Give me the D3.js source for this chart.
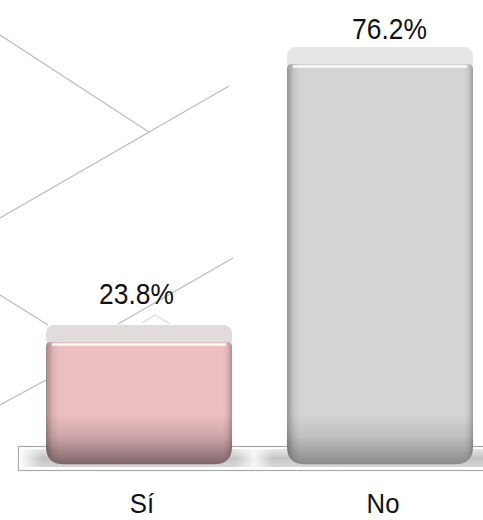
<!DOCTYPE html>
<html>
<head>
<meta charset="utf-8">
<script src="https://cdn.jsdelivr.net/npm/d3@7"></script>
<style>
  html, body { margin: 0; padding: 0; background: #fff; }
  svg { display: block; }
  text { font-family: "Liberation Sans", Arial, sans-serif; fill: #111; }
</style>
</head>
<body>
<div id="chart"></div>
<script>
(function () {

  // chart data
  const categories = ["Sí", "No"];
  const percentages = [23.8, 76.2];
  const valueLabels = ["23.8%", "76.2%"];

  // bar styling (front face, dark bottom, top cap)
  const frontColors = ["#ecbfc0", "#d4d4d4"];
  const bottomColors = ["#7f6669", "#8a8a8a"];
  const capColors = ["#e2dbdb", "#e6e6e6"];

  // decorative background strokes
  const bgLines = [
    [[0, 35], [149, 132]],
    [[0, 218], [229, 86]],
    [[0, 295], [48, 325]],
    [[0, 405], [46, 380]],
    [[118, 324], [233, 258]],
    [[142, 323], [155, 315], [170, 324]]
  ];

  const svg_width = 483;
  const svg_height = 520;

  const svg = d3.select("#chart").append("svg")
    .attr("width", svg_width)
    .attr("height", svg_height);

  const defs = svg.append("defs");

  // scales: front plane and back plane (where labels sit)
  const x = d3.scaleBand()
    .domain(categories)
    .range([18.5, 500.5])
    .paddingInner(0.228)
    .paddingOuter(0.114);
  const xBack = d3.scaleBand()
    .domain(categories)
    .range([10, 516])
    .paddingInner(0.228)
    .paddingOuter(0.114);
  const y = d3.scaleLinear()
    .domain([0, 80])
    .range([451.3, 26.9]);
  const yBack = d3.scaleLinear()
    .domain([0, 80])
    .range([424.4, 19.8]);

  const depth = 17;
  const frontBottom = y(0) + 13;

  // background lines
  svg.append("g")
    .selectAll("path")
    .data(bgLines)
    .enter().append("path")
    .attr("d", d3.line())
    .attr("fill", "none")
    .attr("stroke", function (d, i) { return i === 5 ? "#d8dadc" : "#b9bdc0"; })
    .attr("stroke-width", 1.3);

  // floor
  const floorG = svg.append("g");
  const floorGrad = defs.append("linearGradient")
    .attr("id", "floorGrad")
    .attr("x1", "0").attr("x2", "1").attr("y1", "0").attr("y2", "0");
  [[0, "#ffffff"], [0.05, "#c2c2c2"], [0.46, "#c6c6c6"], [0.5, "#f4f4f4"],
   [0.54, "#c6c6c6"], [1, "#c2c2c2"]].forEach(function (s) {
    floorGrad.append("stop").attr("offset", s[0]).attr("stop-color", s[1]);
  });
  const floorVGrad = defs.append("linearGradient")
    .attr("id", "floorVGrad")
    .attr("x1", "0").attr("x2", "0").attr("y1", "0").attr("y2", "1");
  [[0, "#ffffff", 0.6], [0.5, "#ffffff", 0], [1, "#ffffff", 0.3]].forEach(function (s) {
    floorVGrad.append("stop").attr("offset", s[0]).attr("stop-color", s[1]).attr("stop-opacity", s[2]);
  });
  floorG.append("rect")
    .attr("x", 18.5).attr("y", 446.5)
    .attr("width", 480).attr("height", 24)
    .attr("fill", "#fff")
    .attr("stroke", "#a9a9a9")
    .attr("stroke-width", 1.2);
  floorG.append("rect")
    .attr("x", 19).attr("y", 449)
    .attr("width", 470).attr("height", 18)
    .attr("fill", "url(#floorGrad)");
  floorG.append("rect")
    .attr("x", 19).attr("y", 449)
    .attr("width", 470).attr("height", 18)
    .attr("fill", "url(#floorVGrad)");

  // per bar gradients
  const data = categories.map(function (c, i) {
    return { cat: c, value: percentages[i], label: valueLabels[i], i: i };
  });

  data.forEach(function (d) {
    const g = defs.append("linearGradient")
      .attr("id", "front" + d.i)
      .attr("gradientUnits", "userSpaceOnUse")
      .attr("x1", 0).attr("x2", 0)
      .attr("y1", Math.max(y(d.value) + depth, frontBottom - 50))
      .attr("y2", frontBottom);
    g.append("stop").attr("offset", 0).attr("stop-color", frontColors[d.i]);
    g.append("stop").attr("offset", 0.45).attr("stop-color", d3.interpolateRgb(frontColors[d.i], bottomColors[d.i])(0.28));
    g.append("stop").attr("offset", 1).attr("stop-color", bottomColors[d.i]);
  });

  const edgeGrad = defs.append("linearGradient")
    .attr("id", "edgeGrad")
    .attr("x1", "0").attr("x2", "1").attr("y1", "0").attr("y2", "0");
  [[0, 0.3], [0.035, 0.08], [0.07, 0], [0.95, 0], [0.975, 0.06], [1, 0.25]].forEach(function (s) {
    edgeGrad.append("stop").attr("offset", s[0]).attr("stop-color", "#000").attr("stop-opacity", s[1]);
  });

  function frontPath(x0, x1, top, bottom) {
    const rt = 5, rb = 18;
    return "M" + x0 + "," + (top + rt) +
      " Q" + x0 + "," + top + " " + (x0 + rt) + "," + top +
      " H" + (x1 - rt) +
      " Q" + x1 + "," + top + " " + x1 + "," + (top + rt) +
      " V" + (bottom - rb) +
      " Q" + x1 + "," + bottom + " " + (x1 - rb) + "," + bottom +
      " H" + (x0 + rb) +
      " Q" + x0 + "," + bottom + " " + x0 + "," + (bottom - rb) + " Z";
  }

  const bars = svg.selectAll(".bar")
    .data(data)
    .enter().append("g")
    .attr("class", "bar");

  // top cap (3D top face)
  bars.append("rect")
    .attr("x", function (d) { return x(d.cat); })
    .attr("y", function (d) { return y(d.value); })
    .attr("width", x.bandwidth())
    .attr("height", depth + 6)
    .attr("rx", 8)
    .attr("fill", function (d) { return capColors[d.i]; });

  // front face
  bars.append("path")
    .attr("d", function (d) {
      return frontPath(x(d.cat), x(d.cat) + x.bandwidth(), y(d.value) + depth, frontBottom);
    })
    .attr("fill", function (d) { return "url(#front" + d.i + ")"; });
  bars.append("path")
    .attr("d", function (d) {
      return frontPath(x(d.cat), x(d.cat) + x.bandwidth(), y(d.value) + depth, frontBottom);
    })
    .attr("fill", "url(#edgeGrad)");

  // highlight along the top edge
  bars.append("line")
    .attr("x1", function (d) { return x(d.cat) + 6; })
    .attr("x2", function (d) { return x(d.cat) + x.bandwidth() - 6; })
    .attr("y1", function (d) { return y(d.value) + depth + 2.5; })
    .attr("y2", function (d) { return y(d.value) + depth + 2.5; })
    .attr("stroke", "#ffffff")
    .attr("stroke-opacity", 0.9)
    .attr("stroke-width", 2.5);

  // value labels
  svg.selectAll(".value-label")
    .data(data)
    .enter().append("text")
    .attr("class", "value-label")
    .attr("text-anchor", "middle")
    .attr("font-size", 29)
    .attr("transform", function (d) {
      return "translate(" + (xBack(d.cat) + xBack.bandwidth() / 2) + "," + yBack(d.value) + ") scale(0.91,1)";
    })
    .text(function (d) { return d.label; });

  // category axis labels
  svg.selectAll(".cat-label")
    .data(data)
    .enter().append("text")
    .attr("class", "cat-label")
    .attr("text-anchor", "middle")
    .attr("font-size", 28)
    .attr("transform", function (d) {
      return "translate(" + (x(d.cat) + x.bandwidth() / 2 + 3) + ",513) scale(0.92,1)";
    })
    .text(function (d) { return d.cat; });

})();
</script>
</body>
</html>
